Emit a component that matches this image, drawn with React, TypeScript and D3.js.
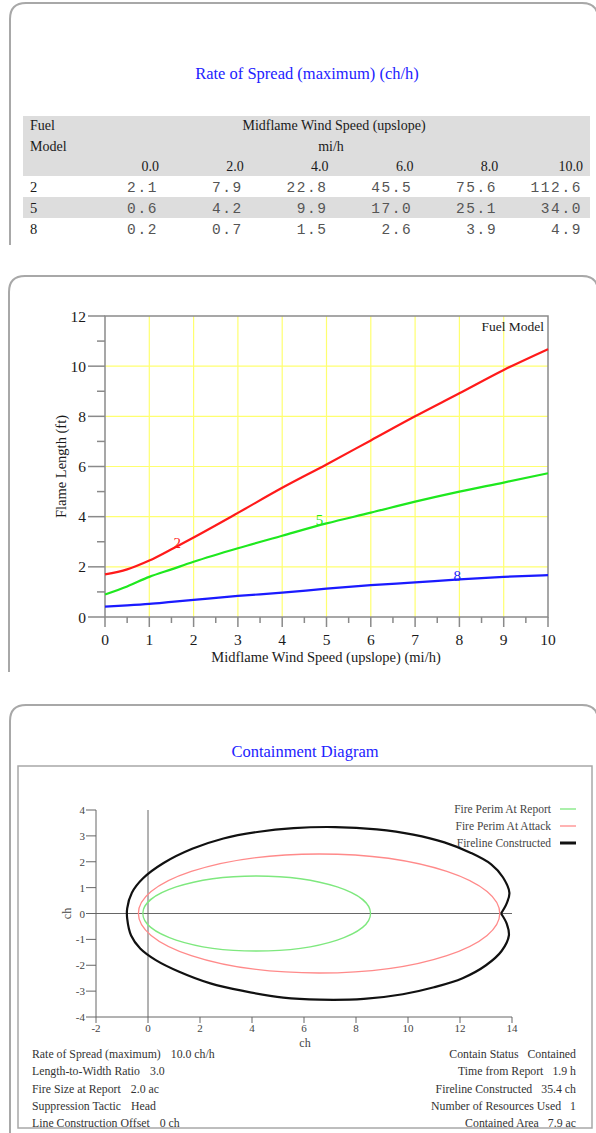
import { useEffect, useRef } from "react";
import * as d3 from "d3";

// table: rate of spread (ch/h)
const windSpeeds = ["0.0", "2.0", "4.0", "6.0", "8.0", "10.0"];
const fuelModels = ["2", "5", "8"];
const rosFuel2 = ["2.1", "7.9", "22.8", "45.5", "75.6", "112.6"];
const rosFuel5 = ["0.6", "4.2", "9.9", "17.0", "25.1", "34.0"];
const rosFuel8 = ["0.2", "0.7", "1.5", "2.6", "3.9", "4.9"];

// flame length chart
const flameWind = [0, 0.5, 1, 1.5, 2, 3, 4, 5, 6, 7, 8, 9, 10];
const flameFuel2 = [1.7, 1.9, 2.25, 2.7, 3.17, 4.15, 5.15, 6.08, 7.04, 8.0, 8.92, 9.85, 10.68];
const flameFuel5 = [0.9, 1.22, 1.6, 1.9, 2.2, 2.74, 3.24, 3.73, 4.16, 4.6, 5.0, 5.36, 5.73];
const flameFuel8 = [0.41, 0.46, 0.52, 0.6, 0.68, 0.84, 0.97, 1.13, 1.27, 1.38, 1.5, 1.6, 1.67];
const flameColors = ["#ff1a1a", "#1ee81e", "#1a1aff"];
const flameLabelPos = [
  [1.63, 2.95],
  [4.84, 3.85],
  [7.95, 1.62],
];

// containment diagram
const legendNames = ["Fire Perim At Report", "Fire Perim At Attack", "Fireline Constructed"];
const legendColors = ["#7ee87e", "#ff8a8a", "#111111"];
// ellipse: center x, semi-axis x, semi-axis y (ch)
const perimReport = [4.18, 4.38, 1.45];
const perimAttack = [6.58, 6.95, 2.3];
const firelineX = [13.58, 13.8, 13.9, 13.65, 13.2, 12.4, 11.4, 10.2, 8.8, 7.2, 5.6, 4.2, 2.9, 1.7, 0.6, -0.2, -0.62, -0.8, -0.8, -0.65, -0.3, 0.3, 1.2, 2.4, 3.7, 5.2, 6.6, 8.3, 9.8, 11.0, 12.1, 13.0, 13.6, 13.88, 13.8, 13.58];
const firelineY = [0, 0.4, 0.8, 1.4, 1.9, 2.35, 2.75, 3.05, 3.25, 3.34, 3.3, 3.15, 2.9, 2.5, 1.95, 1.35, 0.8, 0.2, -0.2, -0.85, -1.35, -1.8, -2.25, -2.7, -3.0, -3.25, -3.33, -3.3, -3.12, -2.85, -2.5, -2.0, -1.45, -0.85, -0.4, 0];
const infoLeft = [
  ["Rate of Spread (maximum)", "10.0 ch/h"],
  ["Length-to-Width Ratio", "3.0"],
  ["Fire Size at Report", "2.0 ac"],
  ["Suppression Tactic", "Head"],
  ["Line Construction Offset", "0 ch"],
];
const infoRight = [
  ["Contain Status", "Contained"],
  ["Time from Report", "1.9 h"],
  ["Fireline Constructed", "35.4 ch"],
  ["Number of Resources Used", "1"],
  ["Contained Area", "7.9 ac"],
];

const serif = "'Liberation Serif', 'Times New Roman', serif";
const mono = "'Liberation Mono', 'Courier New', monospace";

export default function App() {
  const svgRef = useRef<SVGSVGElement>(null);

  useEffect(() => {
    const svg = d3.select(svgRef.current);
    svg.selectAll("*").remove();

    // panel outlines
    const panel = (x: number, y: number, bottom: number) =>
      `M${x},${bottom} V${y + 16} Q${x},${y} ${x + 16},${y} H582 Q598,${y} 598,${y + 16} V${bottom}`;
    [
      [10, 3, 245],
      [9, 276, 672],
      [10, 705, 1133],
    ].forEach(([x, y, b]) =>
      svg
        .append("path")
        .attr("d", panel(x, y, b))
        .attr("fill", "none")
        .attr("stroke", "#a8a8a8")
        .attr("stroke-width", 2),
    );

    // ---------- panel 1: table ----------
    svg
      .append("text")
      .attr("x", 307)
      .attr("y", 79)
      .attr("text-anchor", "middle")
      .attr("font-family", serif)
      .attr("font-size", 16.5)
      .attr("fill", "#2222ff")
      .text("Rate of Spread (maximum) (ch/h)");

    svg.append("rect").attr("x", 23).attr("y", 116).attr("width", 567).attr("height", 60).attr("fill", "#dddddd");
    svg.append("rect").attr("x", 23).attr("y", 197).attr("width", 567).attr("height", 21).attr("fill", "#dddddd");

    const colX = d3.scalePoint<string>().domain(windSpeeds).range([159, 583]);
    const hdr = svg.append("g").attr("font-family", serif).attr("font-size", 14).attr("fill", "#1a1a1a");
    hdr.append("text").attr("x", 30).attr("y", 130).text("Fuel");
    hdr.append("text").attr("x", 30).attr("y", 151).text("Model");
    hdr.append("text").attr("x", 334).attr("y", 130).attr("text-anchor", "middle").text("Midflame Wind Speed (upslope)");
    hdr.append("text").attr("x", 331).attr("y", 151).attr("text-anchor", "middle").text("mi/h");
    hdr
      .selectAll("text.col")
      .data(windSpeeds)
      .join("text")
      .attr("class", "col")
      .attr("x", (d) => colX(d)!)
      .attr("y", 171)
      .attr("text-anchor", "end")
      .text((d) => d);

    const rows = [rosFuel2, rosFuel5, rosFuel8];
    const rowY = d3.scaleBand<string>().domain(fuelModels).range([176, 240]);
    fuelModels.forEach((fm, i) => {
      const cy = rowY(fm)! + rowY.bandwidth() / 2 + 5;
      svg
        .append("text")
        .attr("x", 30)
        .attr("y", cy)
        .attr("font-family", serif)
        .attr("font-size", 14.5)
        .attr("fill", "#1a1a1a")
        .text(fm);
      svg
        .append("g")
        .selectAll("text")
        .data(rows[i])
        .join("text")
        .attr("x", (_, j) => colX(windSpeeds[j])! - 1)
        .attr("y", cy)
        .attr("text-anchor", "end")
        .attr("font-family", mono)
        .attr("font-size", 14.5)
        .attr("letter-spacing", 1.6)
        .attr("fill", "#555")
        .text((d) => d);
    });

    // ---------- panel 2: flame length ----------
    const x2 = d3.scaleLinear().domain([0, 10]).range([105, 548]);
    const y2 = d3.scaleLinear().domain([0, 12]).range([617, 316]);
    const g2 = svg.append("g");

    const grid = g2.append("g").attr("stroke", "#ffff70").attr("stroke-width", 1.2);
    grid
      .selectAll("line.v")
      .data(d3.range(1, 10))
      .join("line")
      .attr("x1", (d) => x2(d))
      .attr("x2", (d) => x2(d))
      .attr("y1", y2(12))
      .attr("y2", y2(0));
    grid
      .selectAll("line.h")
      .data([2, 4, 6, 8, 10])
      .join("line")
      .attr("x1", x2(0))
      .attr("x2", x2(10))
      .attr("y1", (d) => y2(d))
      .attr("y2", (d) => y2(d));

    const axisColor = "#8a8a8a";
    g2.append("path")
      .attr("d", `M${x2(0)},${y2(0)} V${y2(12)} H${x2(10)} V${y2(0)} Z`)
      .attr("fill", "none")
      .attr("stroke", axisColor)
      .attr("stroke-width", 1.5);

    // y ticks
    g2.selectAll("line.yt")
      .data(d3.range(0, 13))
      .join("line")
      .attr("x1", (d) => (d % 2 === 0 ? 88 : 97))
      .attr("x2", x2(0))
      .attr("y1", (d) => y2(d))
      .attr("y2", (d) => y2(d))
      .attr("stroke", axisColor)
      .attr("stroke-width", 1.5);
    g2.selectAll("text.yl")
      .data(d3.range(0, 13, 2))
      .join("text")
      .attr("x", 86)
      .attr("y", (d) => y2(d) + 5.5)
      .attr("text-anchor", "end")
      .attr("font-family", serif)
      .attr("font-size", 15.5)
      .attr("fill", "#1a1a1a")
      .text((d) => d);

    // x ticks
    g2.selectAll("line.xt")
      .data(d3.range(0, 21).map((d) => d / 2))
      .join("line")
      .attr("x1", (d) => x2(d))
      .attr("x2", (d) => x2(d))
      .attr("y1", y2(0))
      .attr("y2", (d) => (Number.isInteger(d) ? y2(0) + 10 : y2(0) + 6))
      .attr("stroke", axisColor)
      .attr("stroke-width", 1.5);
    g2.selectAll("text.xl")
      .data(d3.range(0, 11))
      .join("text")
      .attr("x", (d) => x2(d))
      .attr("y", 645)
      .attr("text-anchor", "middle")
      .attr("font-family", serif)
      .attr("font-size", 15.5)
      .attr("fill", "#1a1a1a")
      .text((d) => d);

    g2.append("text")
      .attr("x", 326)
      .attr("y", 662)
      .attr("text-anchor", "middle")
      .attr("font-family", serif)
      .attr("font-size", 14.5)
      .attr("fill", "#1a1a1a")
      .text("Midflame Wind Speed (upslope) (mi/h)");
    g2.append("text")
      .attr("transform", `translate(66,${y2(6)}) rotate(-90)`)
      .attr("text-anchor", "middle")
      .attr("font-family", serif)
      .attr("font-size", 14.5)
      .attr("fill", "#1a1a1a")
      .text("Flame Length (ft)");
    g2.append("text")
      .attr("x", 544)
      .attr("y", 331)
      .attr("text-anchor", "end")
      .attr("font-family", serif)
      .attr("font-size", 13.5)
      .attr("fill", "#1a1a1a")
      .text("Fuel Model");

    const flameLine = d3
      .line<number>()
      .x((_, i) => x2(flameWind[i]))
      .y((d) => y2(d))
      .curve(d3.curveMonotoneX);
    [flameFuel2, flameFuel5, flameFuel8].forEach((s, i) => {
      g2.append("path")
        .attr("d", flameLine(s))
        .attr("fill", "none")
        .attr("stroke", flameColors[i])
        .attr("stroke-width", 2.2);
      g2.append("text")
        .attr("x", x2(flameLabelPos[i][0]))
        .attr("y", y2(flameLabelPos[i][1]) + 5)
        .attr("text-anchor", "middle")
        .attr("font-family", serif)
        .attr("font-size", 15)
        .attr("fill", flameColors[i])
        .text(fuelModels[i]);
    });

    // ---------- panel 3: containment diagram ----------
    svg
      .append("text")
      .attr("x", 305)
      .attr("y", 757)
      .attr("text-anchor", "middle")
      .attr("font-family", serif)
      .attr("font-size", 16.5)
      .attr("fill", "#2222ff")
      .text("Containment Diagram");
    svg
      .append("rect")
      .attr("x", 18)
      .attr("y", 766)
      .attr("width", 574)
      .attr("height", 362)
      .attr("fill", "none")
      .attr("stroke", "#a8a8a8")
      .attr("stroke-width", 1.5);

    const x3 = d3.scaleLinear().domain([-2, 14]).range([96, 512]);
    const y3 = d3.scaleLinear().domain([-4, 4]).range([1017, 810]);
    const g3 = svg.append("g");
    const ax3 = "#666";

    g3.append("line").attr("x1", x3(-2)).attr("x2", x3(-2)).attr("y1", y3(4)).attr("y2", y3(-4)).attr("stroke", ax3);
    g3.append("line").attr("x1", x3(-2)).attr("x2", x3(14)).attr("y1", y3(-4)).attr("y2", y3(-4)).attr("stroke", ax3);
    g3.append("line").attr("x1", x3(-2)).attr("x2", x3(14)).attr("y1", y3(0)).attr("y2", y3(0)).attr("stroke", ax3);
    g3.append("line").attr("x1", x3(0)).attr("x2", x3(0)).attr("y1", y3(4)).attr("y2", y3(-4)).attr("stroke", ax3);

    g3.selectAll("line.yt")
      .data(d3.range(-4, 5))
      .join("line")
      .attr("x1", x3(-2) - 10)
      .attr("x2", x3(-2))
      .attr("y1", (d) => y3(d))
      .attr("y2", (d) => y3(d))
      .attr("stroke", ax3);
    g3.selectAll("text.yl")
      .data(d3.range(-4, 5))
      .join("text")
      .attr("x", x3(-2) - 11)
      .attr("y", (d) => y3(d) + 4)
      .attr("text-anchor", "end")
      .attr("font-family", serif)
      .attr("font-size", 11)
      .attr("fill", "#444")
      .text((d) => d);
    g3.selectAll("line.xt")
      .data(d3.range(-2, 15, 2))
      .join("line")
      .attr("x1", (d) => x3(d))
      .attr("x2", (d) => x3(d))
      .attr("y1", y3(-4))
      .attr("y2", y3(-4) + 6)
      .attr("stroke", ax3);
    g3.selectAll("text.xl")
      .data(d3.range(-2, 15, 2))
      .join("text")
      .attr("x", (d) => x3(d))
      .attr("y", y3(-4) + 15)
      .attr("text-anchor", "middle")
      .attr("font-family", serif)
      .attr("font-size", 11)
      .attr("fill", "#444")
      .text((d) => d);
    g3.append("text")
      .attr("x", 305)
      .attr("y", 1047)
      .attr("text-anchor", "middle")
      .attr("font-family", serif)
      .attr("font-size", 12)
      .attr("fill", "#444")
      .text("ch");
    g3.append("text")
      .attr("transform", `translate(71,${y3(0)}) rotate(-90)`)
      .attr("text-anchor", "middle")
      .attr("font-family", serif)
      .attr("font-size", 12)
      .attr("fill", "#444")
      .text("ch");

    [perimReport, perimAttack].forEach(([cx, a, b], i) => {
      g3.append("ellipse")
        .attr("cx", x3(cx))
        .attr("cy", y3(0))
        .attr("rx", x3(a) - x3(0))
        .attr("ry", y3(0) - y3(b))
        .attr("fill", "none")
        .attr("stroke", legendColors[i])
        .attr("stroke-width", 1.3);
    });
    const fireline = d3
      .line<number>()
      .x((d) => x3(d))
      .y((_, i) => y3(firelineY[i]))
      .curve(d3.curveCatmullRom);
    g3.append("path")
      .attr("d", fireline(firelineX))
      .attr("fill", "none")
      .attr("stroke", legendColors[2])
      .attr("stroke-width", 2.2);

    // legend
    legendNames.forEach((n, i) => {
      const ly = 809 + i * 17;
      g3.append("text")
        .attr("x", 551)
        .attr("y", ly + 4)
        .attr("text-anchor", "end")
        .attr("font-family", serif)
        .attr("font-size", 11.5)
        .attr("fill", "#444")
        .text(n);
      g3.append("line")
        .attr("x1", 560)
        .attr("x2", 576)
        .attr("y1", ly)
        .attr("y2", ly)
        .attr("stroke", legendColors[i])
        .attr("stroke-width", i === 2 ? 3 : 1.3);
    });

    // info block
    const info = svg.append("g").attr("font-family", serif).attr("font-size", 11.8).attr("fill", "#333");
    infoLeft.forEach(([label, value], i) => {
      const t = info.append("text").attr("x", 32).attr("y", 1058 + i * 17.3);
      t.append("tspan").text(label);
      t.append("tspan").attr("dx", 10).text(value);
    });
    infoRight.forEach(([label, value], i) => {
      const t = info
        .append("text")
        .attr("x", 576)
        .attr("y", 1058 + i * 17.3)
        .attr("text-anchor", "end");
      t.append("tspan").text(label);
      t.append("tspan").attr("dx", 9).text(value);
    });
  }, []);

  return (
    <svg
      ref={svgRef}
      width={596}
      height={1133}
      style={{ position: "absolute", left: 0, top: 0, background: "#fff" }}
    />
  );
}
